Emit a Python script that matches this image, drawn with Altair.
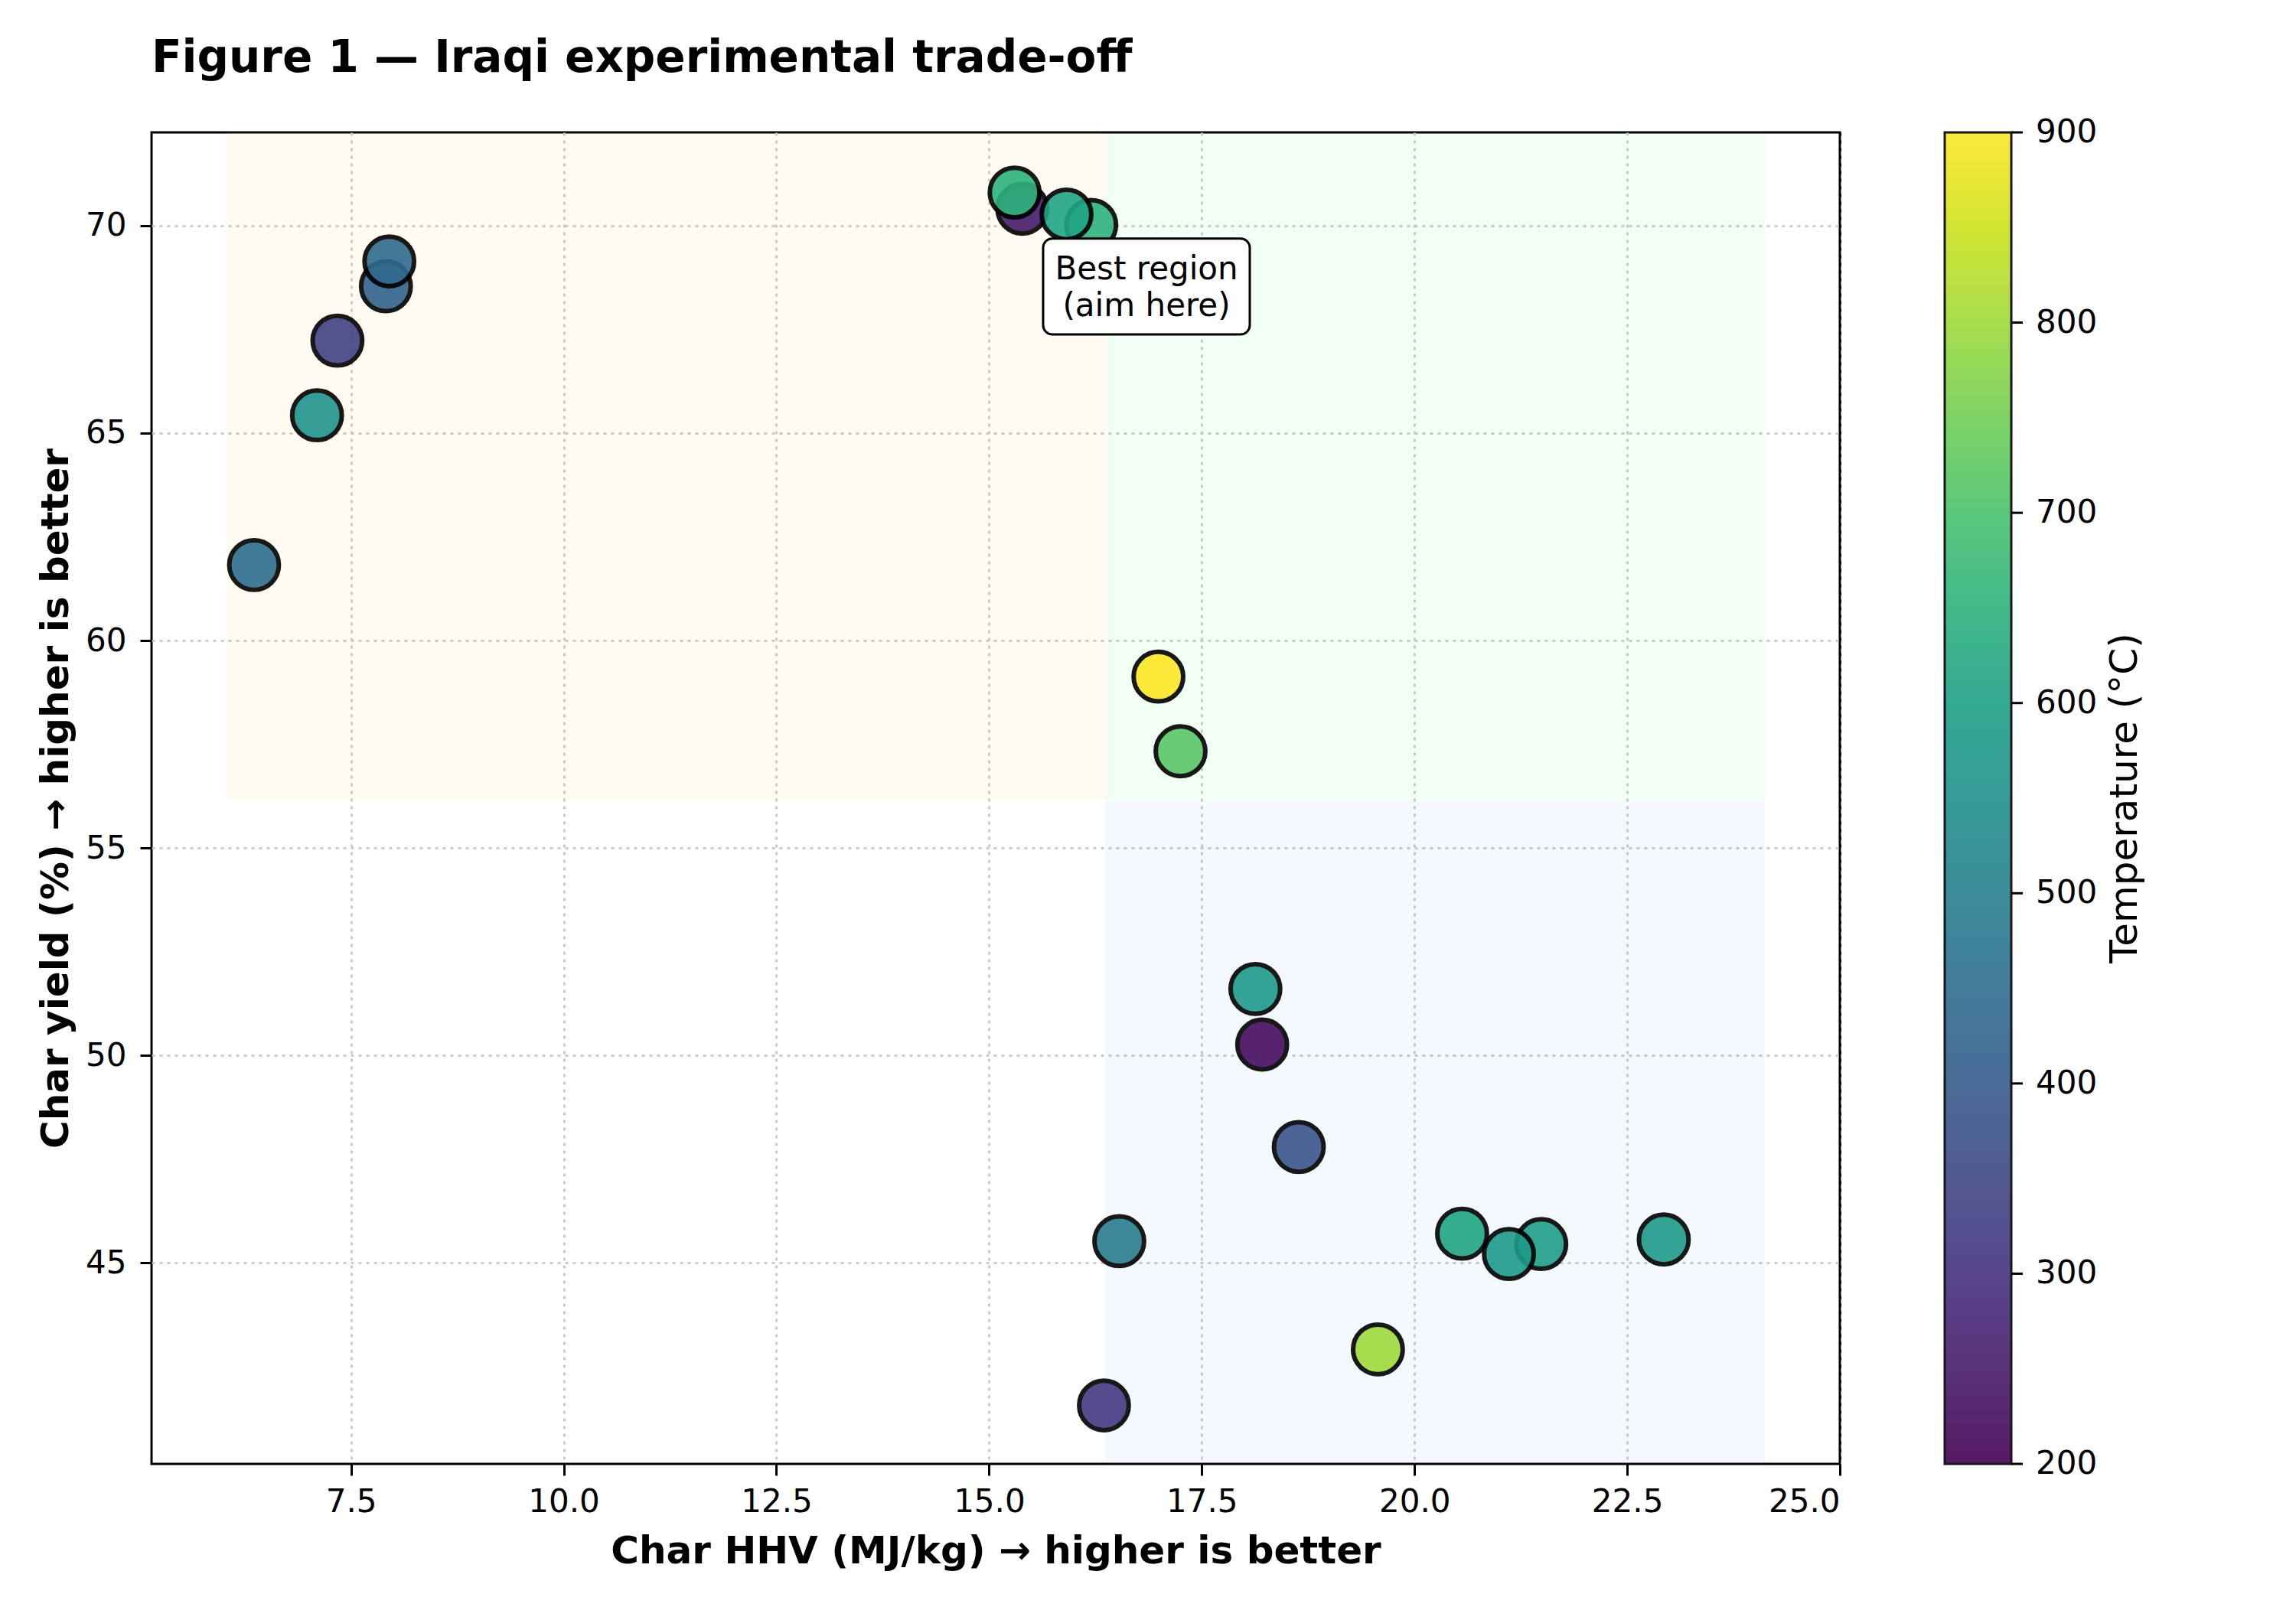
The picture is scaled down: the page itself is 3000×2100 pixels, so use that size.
import altair as alt
import pandas as pd

FONT = "DejaVu Sans"

# ---- data ----
hhv = [6.36, 7.10, 7.34, 7.91, 7.95, 15.39, 15.30, 16.20, 15.91, 16.99, 17.25,
       18.13, 18.21, 18.64, 16.53, 16.35, 19.57, 20.56, 21.49, 21.11, 22.93]
char_yield = [61.82, 65.43, 67.23, 68.54, 69.14, 70.41, 70.80, 70.02, 70.27, 59.13, 57.33,
              51.60, 50.26, 47.79, 45.52, 41.56, 42.91, 45.70, 45.45, 45.21, 45.56]
temperature = [450, 560, 330, 420, 440, 250, 650, 650, 610, 900, 720,
               580, 220, 380, 490, 310, 800, 610, 590, 580, 580]

x_ticks = [7.5, 10.0, 12.5, 15.0, 17.5, 20.0, 22.5, 25.0]
y_ticks = [45, 50, 55, 60, 65, 70]
cbar_ticks = [200, 300, 400, 500, 600, 700, 800, 900]

x_domain = [5.155, 25.0]
y_domain = [40.15, 72.25]
t_domain = [200, 900]

# shaded regions (HHV / yield bounds)
reg_x = [6.03, 16.37, 16.37]
reg_x2 = [16.37, 24.12, 24.12]
reg_y = [56.16, 56.16, 40.15]
reg_y2 = [72.25, 72.25, 56.16]
reg_fill = ["#ffa500", "#00ff33", "#1e90ff"]

# annotation box
ann_text = ["Best region\n(aim here)"]
ann_x = [16.85]
ann_y = [68.53]
box_x = [15.635]
box_x2 = [18.064]
box_y = [67.38]
box_y2 = [69.69]

W, H = 2206, 1740

pts = pd.DataFrame({"hhv": hhv, "yld": char_yield, "temp": temperature})
regions = pd.DataFrame({"x": reg_x, "x2": reg_x2, "y": reg_y, "y2": reg_y2, "c": reg_fill})
ann = pd.DataFrame({"t": ann_text, "x": ann_x, "y": ann_y,
                    "bx": box_x, "bx2": box_x2, "by": box_y, "by2": box_y2})
cb = pd.DataFrame({"t": cbar_ticks, "lab": [str(v) for v in cbar_ticks]})

xs = alt.Scale(domain=x_domain, nice=False, zero=False)
ys = alt.Scale(domain=y_domain, nice=False, zero=False)
ts = alt.Scale(domain=t_domain, nice=False, zero=False)

x_axis = alt.Axis(values=x_ticks, format=".1f", title="Char HHV (MJ/kg) → higher is better",
                  labelPadding=14, titleX=W / 2, titleY=129, titleBaseline="alphabetic",
                  titleAlign="center",
                  gridColor={"condition": {"test": "datum.value >= 24.9", "value": "black"},
                             "value": "#cccccc"})
y_axis = alt.Axis(values=y_ticks, format="d", title="Char yield (%) → higher is better",
                  labelPadding=18, titleX=-110, titleY=H / 2, titleAngle=270,
                  titleBaseline="alphabetic", titleAlign="center")

reg_layer = alt.Chart(regions).mark_rect(opacity=0.05).encode(
    x=alt.X("x:Q", scale=xs, axis=x_axis),
    x2="x2:Q",
    y=alt.Y("y:Q", scale=ys, axis=y_axis),
    y2="y2:Q",
    fill=alt.Fill("c:N", scale=None),
)

pt_layer = alt.Chart(pts).mark_circle(size=4200, opacity=0.9, stroke="black", strokeWidth=6).encode(
    x=alt.X("hhv:Q", scale=xs),
    y=alt.Y("yld:Q", scale=ys),
    color=alt.Color("temp:Q", scale=alt.Scale(scheme="viridis", domain=t_domain),
                    title=None,
                    legend=alt.Legend(orient="none", legendX=2343, legendY=0,
                                      direction="vertical", gradientLength=H,
                                      gradientThickness=87, gradientStrokeColor="black",
                                      gradientStrokeWidth=3, labelOpacity=0, padding=0)),
)

box_layer = alt.Chart(ann).mark_rect(fill="white", stroke="black", strokeWidth=3,
                                     cornerRadius=12).encode(
    x=alt.X("bx:Q", scale=xs), x2="bx2:Q",
    y=alt.Y("by:Q", scale=ys), y2="by2:Q",
)
ann_layer = alt.Chart(ann).mark_text(font=FONT, fontSize=42, lineBreak="\n", lineHeight=48,
                                     align="center", baseline="middle", dy=-23,
                                     color="black").encode(
    x=alt.X("x:Q", scale=xs), y=alt.Y("y:Q", scale=ys), text="t:N",
)

cb_title = alt.Chart(pd.DataFrame({"s": ["Temperature (°C)"]})).mark_text(
    font=FONT, fontSize=50, angle=270, align="center", baseline="alphabetic", color="black"
).encode(x=alt.value(2594), y=alt.value(H / 2), text="s:N")

main = alt.layer(reg_layer, pt_layer, box_layer, ann_layer, cb_title)

cb_ticks = alt.Chart(cb).mark_rule(color="black", strokeWidth=3).encode(
    y=alt.Y("t:Q", scale=ts, axis=None), x=alt.value(2430), x2=alt.value(2445))
cb_labels = alt.Chart(cb).mark_text(font=FONT, fontSize=42, align="left", baseline="middle",
                                    color="black").encode(
    y=alt.Y("t:Q", scale=ts, axis=None), x=alt.value(2462), text="lab:N")

chart = alt.layer(main, alt.layer(cb_ticks, cb_labels)).resolve_scale(
    y="independent"
).properties(
    width=W, height=H,
    title=alt.TitleParams(text="Figure 1 — Iraqi experimental trade-off", anchor="start",
                          font=FONT, fontSize=58, fontWeight="bold", color="black",
                          offset=0, baseline="alphabetic", frame="group"),
    autosize=alt.AutoSizeParams(type="none"),
    padding={"left": 190, "top": 165, "right": 560, "bottom": 150},
).configure_view(
    stroke="black", strokeWidth=3
).configure_axis(
    labelFont=FONT, labelFontSize=42, labelColor="black",
    titleFont=FONT, titleFontSize=50, titleFontWeight="bold", titleColor="black",
    tickColor="black", tickWidth=3, tickSize=15,
    grid=True, gridColor="#cccccc", gridDash=[4, 6], gridWidth=3,
    domain=False,
).configure_legend(
    gradientLength=H,
)

chart.save("out.html", embed_options={"renderer": "svg", "actions": False})
